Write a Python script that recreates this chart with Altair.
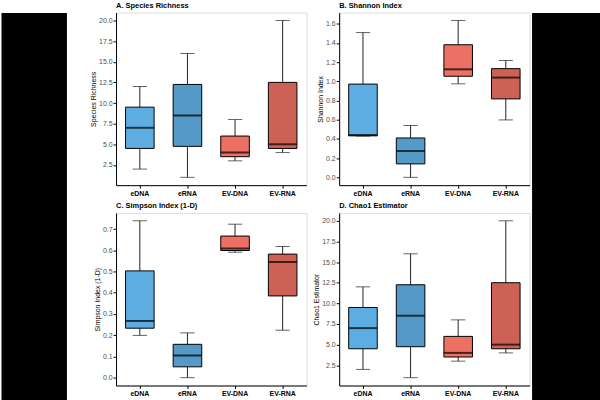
import altair as alt
import pandas as pd

groups = ["eDNA", "eRNA", "EV-DNA", "EV-RNA"]
colors = ["#5DADE2", "#5499C7", "#EC7063", "#CD6155"]

# five-number summaries per group (min, q1, median, q3, max)
rich_min = [2.0, 1.0, 3.0, 4.0]
rich_q1 = [4.5, 4.75, 3.5, 4.5]
rich_med = [7.0, 8.5, 4.0, 5.0]
rich_q3 = [9.5, 12.25, 6.0, 12.5]
rich_max = [12.0, 16.0, 8.0, 20.0]

shan_min = [0.43, 0.0, 0.974, 0.598]
shan_q1 = [0.432, 0.14, 1.053, 0.817]
shan_med = [0.441, 0.274, 1.125, 1.039]
shan_q3 = [0.971, 0.41, 1.381, 1.132]
shan_max = [1.508, 0.54, 1.634, 1.217]

simp_min = [0.199, 0.0, 0.591, 0.2235]
simp_q1 = [0.233, 0.051, 0.599, 0.385]
simp_med = [0.267, 0.104, 0.608, 0.545]
simp_q3 = [0.503, 0.157, 0.667, 0.582]
simp_max = [0.739, 0.211, 0.723, 0.618]

chao_min = [2.0, 1.0, 3.0, 4.0]
chao_q1 = [4.5, 4.75, 3.5, 4.5]
chao_med = [7.0, 8.5, 4.0, 5.0]
chao_q3 = [9.5, 12.25, 6.0, 12.5]
chao_max = [12.0, 16.0, 8.0, 20.0]

rich_ticks = [2.5, 5.0, 7.5, 10.0, 12.5, 15.0, 17.5, 20.0]
shan_ticks = [0.0, 0.2, 0.4, 0.6, 0.8, 1.0, 1.2, 1.4, 1.6]
simp_ticks = [0.0, 0.1, 0.2, 0.3, 0.4, 0.5, 0.6, 0.7]

PW, PH = 192, 174
BAND = PW / 4
BOX = BAND * 0.6
FONT = "Liberation Sans"


def panel(title, ytitle, mins, q1s, meds, q3s, maxs, domain, ticks):
    df = pd.DataFrame({"group": groups, "lo": mins, "q1": q1s, "med": meds,
                       "q3": q3s, "hi": maxs})
    x = alt.X("group:N", sort=groups, title=None,
              scale=alt.Scale(domain=groups, paddingInner=0, paddingOuter=0),
              axis=alt.Axis(labelAngle=0, labelFontWeight="bold", labelFontSize=7,
                            labelColor="black", tickSize=3, labelPadding=1.5,
                            domainColor="black", tickColor="black", grid=False,
                            minExtent=0))
    ysc = alt.Scale(domain=domain, nice=False, zero=False)
    yax = alt.Axis(values=ticks, format=".1f", tickSize=3, labelPadding=1,
                   labelFontSize=7, labelColor="#4D4D4D", titleFontSize=7,
                   titleFontWeight="normal", titleColor="black", titlePadding=2,
                   domainColor="black", tickColor="black", grid=False,
                   minExtent=0, maxExtent=80)

    def Y(f):
        return alt.Y(f, type="quantitative", scale=ysc, axis=yax, title=ytitle)

    base = alt.Chart(df).encode(x=x)
    whisk = base.mark_rule(color="#222222", strokeWidth=1).encode(y=Y("lo"), y2="hi")
    cap_lo = base.mark_tick(color="#222222", size=BOX / 2, thickness=1).encode(y=Y("lo"))
    cap_hi = base.mark_tick(color="#222222", size=BOX / 2, thickness=1).encode(y=Y("hi"))
    box = base.mark_bar(width=alt.RelativeBandSize(0.6), stroke="black",
                        strokeWidth=1).encode(
        y=Y("q1"), y2="q3",
        color=alt.Color("group:N", scale=alt.Scale(domain=groups, range=colors),
                        legend=None))
    med = base.mark_tick(color="black", size=BOX, thickness=2).encode(y=Y("med"))
    return alt.layer(whisk, cap_lo, cap_hi, box, med).properties(
        width=PW, height=PH,
        title=alt.TitleParams(title, anchor="start", frame="group", fontSize=7.5,
                              fontWeight="bold", color="black", offset=3))


pA = panel("A. Species Richness", "Species Richness", rich_min, rich_q1, rich_med,
           rich_q3, rich_max, [0.05, 20.95], rich_ticks)
pB = panel("B. Shannon Index", "Shannon Index", shan_min, shan_q1, shan_med,
           shan_q3, shan_max, [-0.0817, 1.7157], shan_ticks)
pC = panel("C. Simpson Index (1-D)", "Simpson Index (1-D)", simp_min, simp_q1,
           simp_med, simp_q3, simp_max, [-0.037, 0.776], simp_ticks)
pD = panel("D. Chao1 Estimator", "Chao1 Estimator", chao_min, chao_q1, chao_med,
           chao_q3, chao_max, [0.05, 20.95], rich_ticks)

grid = alt.concat(pA, pB, pC, pD, columns=2, bounds="flush",
                  spacing=alt.RowColnumber(row=28, column=33))

spacer_df = pd.DataFrame({"v": [0]})


def spacer(w, fill):
    return alt.Chart(spacer_df).mark_point(opacity=0, size=0, strokeWidth=0).encode(
        x=alt.value(w / 2), y=alt.value(200)).properties(
        width=w, height=400, view=alt.ViewBackground(fill=fill, stroke="transparent"))


chart = alt.hconcat(spacer(66, "black"), spacer(19.5, "white"), grid,
                    spacer(68.5, "black"), spacing=0).properties(
    padding=0, background="white"
).configure_view(stroke="transparent").configure(font=FONT)

chart.save("out.html", embed_options={"renderer": "svg", "actions": False})
